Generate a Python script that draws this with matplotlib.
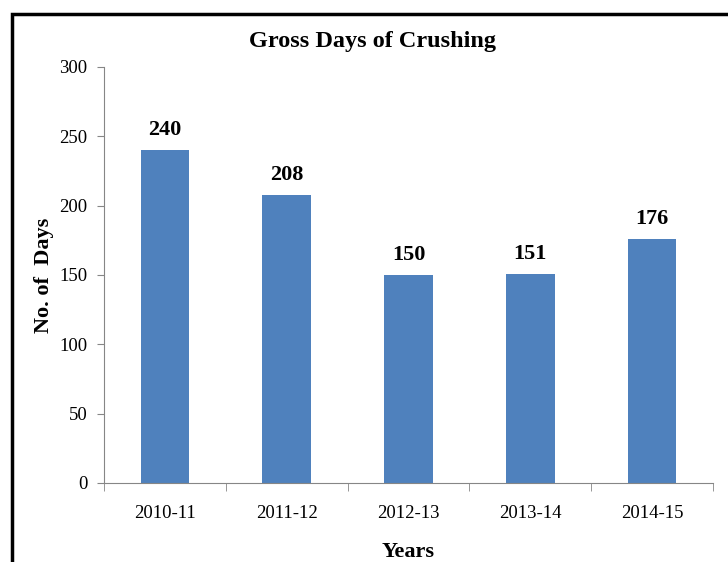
import numpy as np
import matplotlib.pyplot as plt
from matplotlib.patches import Rectangle

years = ["2010-11", "2011-12", "2012-13", "2013-14", "2014-15"]
days = [240, 208, 150, 151, 176]
yticks = [0, 50, 100, 150, 200, 250, 300]

plt.rcParams['font.family'] = ['Liberation Serif', 'DejaVu Serif']

fig = plt.figure(figsize=(7.28, 5.62), dpi=100)
ax = fig.add_axes([0.1429, 0.1406, 0.8365, 0.7402])

x = np.arange(len(years))
ax.bar(x, days, width=0.4, color='#4f81bd', zorder=2)
for xi, v in zip(x, days):
    ax.text(xi, v + 7, str(v), ha='center', va='bottom', fontsize=16, fontweight='bold')

ax.set_xlim(-0.5, len(years) - 0.5)
ax.set_ylim(0, 300)
ax.set_yticks(yticks)
ax.set_xticks(x)
ax.set_xticklabels(years)
ax.set_xticks(np.arange(len(years) + 1) - 0.5, minor=True)
ax.tick_params(axis='x', which='major', length=0, pad=16, labelsize=13.5)
ax.tick_params(axis='x', which='minor', length=6, color='#868686')
ax.tick_params(axis='y', length=5, color='#868686', labelsize=13.5, pad=7)

for s in ['top', 'right']:
    ax.spines[s].set_visible(False)
for s in ['left', 'bottom']:
    ax.spines[s].set_color('#868686')

# title sits centred on the chart box, not the axes
fig.text(373 / 728, 1 - 42 / 562, "Gross Days of Crushing", ha='center', va='center',
         fontsize=17.5, fontweight='bold')
ax.set_ylabel("No. of  Days", fontsize=16, fontweight='bold', labelpad=4)
ax.set_xlabel("Years", fontsize=16, fontweight='bold', labelpad=14)

# outer border around the chart
fig.patches.append(Rectangle((12 / 728, -0.05), 1.0, 1 - 14 / 562 + 0.05,
                             transform=fig.transFigure, fill=False,
                             edgecolor='black', linewidth=2.5, clip_on=False))

fig.savefig("out.png", dpi=100)
